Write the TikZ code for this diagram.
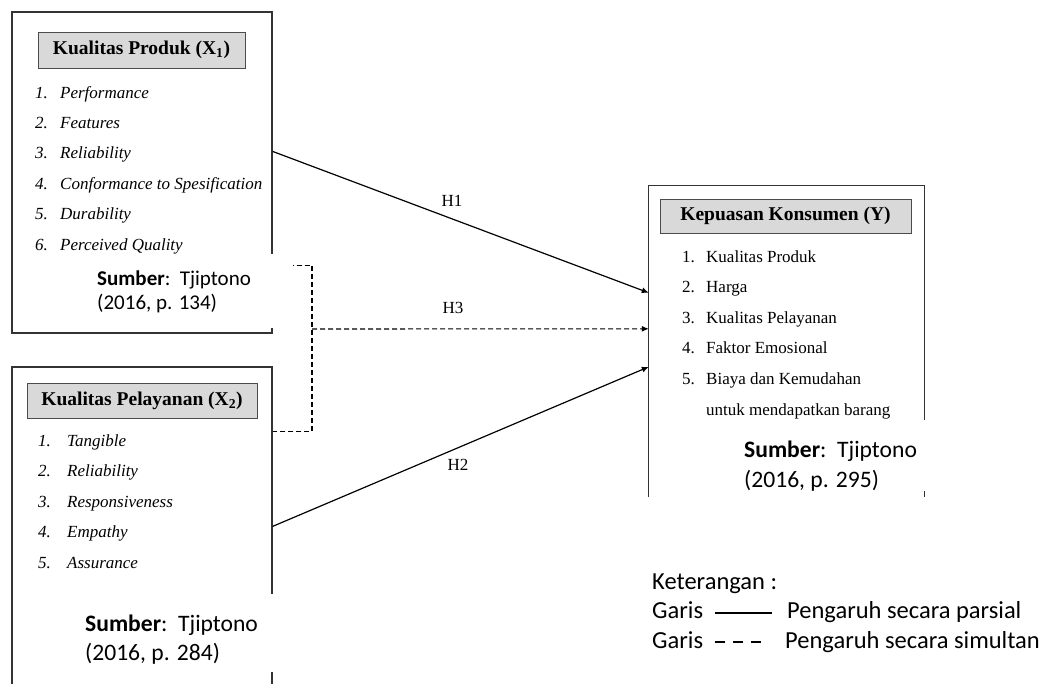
\documentclass[tikz,border=0pt]{standalone}
\usepackage{fontspec}
\setmainfont{Liberation Serif}
\newfontfamily\carl{Carlito}
\usetikzlibrary{arrows.meta,calc}
\begin{document}
\begin{tikzpicture}[x=1pt,y=-1pt,
 bigbox/.style={draw=black!80, line width=1.2pt, inner sep=0pt},
 titlebox/.style={draw=black!70, fill=black!15, line width=0.9pt, font=\fontsize{19.5}{22}\selectfont\bfseries, inner sep=0pt},
 item/.style={anchor=base west, inner sep=0pt, font=\fontsize{17}{20}\selectfont\itshape},
 itemr/.style={anchor=base west, inner sep=0pt, font=\fontsize{17}{20}\selectfont},
 cover/.style={fill=white, draw=none, inner sep=0pt},
 srca/.style={anchor=base west, inner sep=0pt, font=\carl\fontsize{21}{25}\selectfont},
 srcb/.style={anchor=base west, inner sep=0pt, font=\carl\fontsize{23.6}{29}\selectfont},
 conn/.style={line width=1.2pt, -{Latex[length=7pt,width=6pt]}},
 dconn/.style={line width=1.1pt, dash pattern=on 5pt off 3pt},
 hlab/.style={font=\fontsize{17}{20}\selectfont, inner sep=0pt},
 legend/.style={anchor=base west, inner sep=0pt, font=\carl\fontsize{24.5}{30}\selectfont}
]
\useasboundingbox (0,0) rectangle (1049,683);
\clip (0,0) rectangle (1049,683);

% main boxes
\node[bigbox, minimum width=260pt, minimum height=321pt] (X1) at (142,172.5) {};
\node[bigbox, minimum width=260pt, minimum height=353pt] (X2) at (142,543.5) {};
\node[inner sep=0pt, minimum width=275pt, minimum height=311pt] (Y) at (786.5,341.5) {};
\draw[black!80, line width=1.2pt] (Y.south west) -- (Y.north west) -- (Y.north east) -- (Y.south east);

% titles
\node[titlebox, minimum width=207pt, minimum height=36pt] (t1) at (141.5,50) {Kualitas Produk (X\textsubscript{1})};
\node[titlebox, minimum width=230pt, minimum height=35pt] (t2) at (142,400.5) {Kualitas Pelayanan (X\textsubscript{2})};
\node[titlebox, minimum width=251pt, minimum height=34pt] (t3) at (785.5,216) {Kepuasan Konsumen (Y)};

% items X1
\foreach \t [count=\i] in {Performance, Features, Reliability, Conformance to Spesification, Durability, Perceived Quality} {
  \node[item] (a\i) at (35, 67.6+30.4*\i) {\i.};
  \node[item] (b\i) at (60, 67.6+30.4*\i) {\t};
}
% items X2
\foreach \t [count=\i] in {Tangible, Reliability, Responsiveness, Empathy, Assurance} {
  \node[item] (c\i) at (38, 415.5+30.5*\i) {\i.};
  \node[item] (d\i) at (67, 415.5+30.5*\i) {\t};
}
% items Y
\foreach \t [count=\i] in {Kualitas Produk, Harga, Kualitas Pelayanan, Faktor Emosional, Biaya dan Kemudahan} {
  \node[itemr] (e\i) at (682, 231.5+30.5*\i) {\i.};
  \node[itemr] (f\i) at (706, 231.5+30.5*\i) {\t};
}
\node[itemr] (f6) at (706, 415) {untuk mendapatkan barang};

% connectors
\coordinate (jn) at (312,329);
\draw[dconn] ([yshift=-254pt]X1.north east) -| (jn) |- ([yshift=-65pt]X2.north east);
\draw[dconn, -{Latex[length=7pt,width=6pt]}] (jn) -- ([yshift=-143pt]Y.north west);
\draw[conn] ([yshift=-140pt]X1.north east) -- ([yshift=-107pt]Y.north west);
\draw[conn] ([yshift=-160pt]X2.north east) -- ([yshift=-181pt]Y.north west);

\node[hlab] (h1) at (452,201) {H1};
\node[hlab] (h3) at (453,308) {H3};
\node[hlab] (h2) at (458,465) {H2};

% source notes
\node[cover, minimum width=208pt, minimum height=74pt] (s1c) at (189,291) {};
\node[srca] (s1a) at (97,285) {\textbf{Sumber}:\ \ Tjiptono};
\node[srca] (s1b) at (97,309) {(2016, p. 134)};

\node[cover, minimum width=215pt, minimum height=78pt] (s2c) at (177.5,633) {};
\node[srcb] (s2a) at (85,631) {\textbf{Sumber}:\ \ Tjiptono};
\node[srcb] (s2b) at (85,660) {(2016, p. 284)};

\node[cover, minimum width=205pt, minimum height=71pt] (s3c) at (832.5,455.5) {};
\node[srcb] (s3a) at (744,457) {\textbf{Sumber}:\ \ Tjiptono};
\node[srcb] (s3b) at (744,487) {(2016, p. 295)};

% legend
\node[legend] (k0) at (652,589) {Keterangan :};
\node[legend] (g1) at (652,618) {Garis};
\coordinate (l1a) at (715,613);
\coordinate (l1b) at (772,613);
\draw[line width=1.5pt] (l1a) -- (l1b);
\node[legend] (p1) at (787,618) {Pengaruh secara parsial};
\node[legend] (g2) at (652,648) {Garis};
\coordinate (l2a) at (715,642);
\coordinate (l2b) at (765,642);
\draw[line width=2pt, dash pattern=on 10pt off 8pt] (l2a) -- (l2b);
\node[legend] (p2) at (785,648) {Pengaruh secara simultan};
\end{tikzpicture}
\end{document}
